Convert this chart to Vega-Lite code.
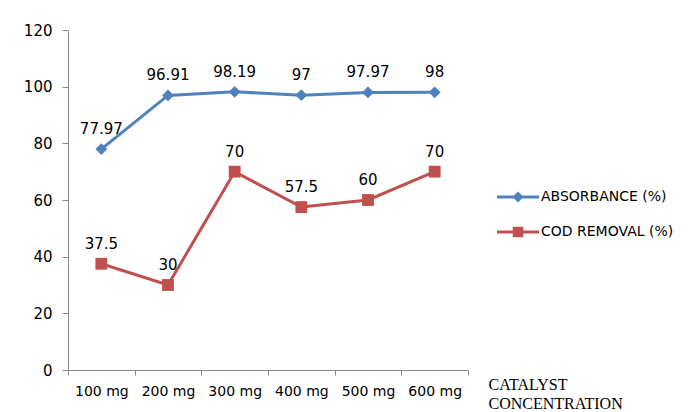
{
  "$schema": "https://vega.github.io/schema/vega-lite/v6.json",
  "width": 400,
  "height": 340,
  "autosize": {"type": "none"},
  "padding": {"left": 68, "top": 30, "right": 232, "bottom": 42},
  "background": "white",
  "config": {"view": {"stroke": null}, "font": "DejaVu Sans"},
  "data": {
    "values": [
      {"conc": "100 mg", "series": "ABSORBANCE  (%)", "value": 77.97},
      {"conc": "200 mg", "series": "ABSORBANCE  (%)", "value": 96.91},
      {"conc": "300 mg", "series": "ABSORBANCE  (%)", "value": 98.19},
      {"conc": "400 mg", "series": "ABSORBANCE  (%)", "value": 97},
      {"conc": "500 mg", "series": "ABSORBANCE  (%)", "value": 97.97},
      {"conc": "600 mg", "series": "ABSORBANCE  (%)", "value": 98},
      {"conc": "100 mg", "series": "COD REMOVAL (%)", "value": 37.5},
      {"conc": "200 mg", "series": "COD REMOVAL (%)", "value": 30},
      {"conc": "300 mg", "series": "COD REMOVAL (%)", "value": 70},
      {"conc": "400 mg", "series": "COD REMOVAL (%)", "value": 57.5},
      {"conc": "500 mg", "series": "COD REMOVAL (%)", "value": 60},
      {"conc": "600 mg", "series": "COD REMOVAL (%)", "value": 70}
    ]
  },
  "encoding": {
    "x": {
      "field": "conc",
      "type": "nominal",
      "sort": null,
      "scale": {"paddingInner": 0, "paddingOuter": 0},
      "axis": {
        "title": ["CATALYST", "CONCENTRATION"],
        "titleFont": "Liberation Serif",
        "titleFontSize": 16,
        "titleFontWeight": "normal",
        "titleColor": "#000",
        "titleAlign": "left",
        "titleBaseline": "top",
        "titleAnchor": "start",
        "titleX": 420,
        "titleY": 6,
        "titleLineHeight": 19,
        "labelAngle": 0,
        "labelFontSize": 14,
        "labelColor": "#000",
        "labelPadding": 9,
        "tickBand": "extent",
        "tickSize": 5,
        "tickColor": "#888",
        "domainColor": "#888",
        "grid": false
      }
    },
    "y": {
      "field": "value",
      "type": "quantitative",
      "scale": {"domain": [0, 120]},
      "axis": {
        "title": null,
        "values": [0, 20, 40, 60, 80, 100, 120],
        "labelFontSize": 15,
        "labelColor": "#000",
        "labelPadding": 10,
        "tickSize": 6,
        "tickColor": "#888",
        "domainColor": "#888",
        "grid": false
      }
    }
  },
  "layer": [
    {
      "mark": {"type": "line", "strokeWidth": 3},
      "encoding": {
        "color": {
          "field": "series",
          "type": "nominal",
          "scale": {"domain": ["ABSORBANCE  (%)", "COD REMOVAL (%)"], "range": ["#4F81BD", "#C0504D"]},
          "legend": {
            "orient": "none",
            "legendX": 429,
            "legendY": 146,
            "title": null,
            "symbolSize": 1764,
            "labelFontSize": 14,
            "labelColor": "#000",
            "labelOffset": 2,
            "rowPadding": 7,
            "encode": {
              "symbols": {
                "update": {
                  "shape": {"signal": "datum.value == 'ABSORBANCE  (%)' ? 'M-1,-0.07H1V0.07H-1Z M0,-0.26L0.26,0L0,0.26L-0.26,0Z' : 'M-1,-0.07H1V0.07H-1Z M-0.25,-0.25H0.25V0.25H-0.25Z'"},
                  "fill": {"signal": "datum.value == 'ABSORBANCE  (%)' ? '#4F81BD' : '#C0504D'"},
                  "fillOpacity": {"value": 1},
                  "strokeWidth": {"value": 0}
                }
              }
            }
          }
        }
      }
    },
    {
      "transform": [{"filter": "datum.series == 'ABSORBANCE  (%)'"}],
      "mark": {"type": "point", "filled": true, "opacity": 1, "size": 140, "shape": "diamond", "color": "#4F81BD"}
    },
    {
      "transform": [{"filter": "datum.series == 'COD REMOVAL (%)'"}],
      "mark": {"type": "point", "filled": true, "opacity": 1, "size": 140, "shape": "square", "color": "#C0504D"}
    },
    {
      "mark": {"type": "text", "dy": -20, "fontSize": 15, "color": "#000"},
      "encoding": {"text": {"field": "value", "type": "nominal"}}
    }
  ]
}
